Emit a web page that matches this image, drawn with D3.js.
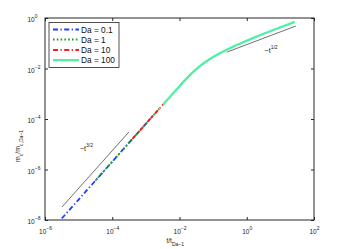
<!DOCTYPE html>
<html><head><meta charset="utf-8">
<script src="https://cdn.jsdelivr.net/npm/d3@7"></script>
<style>
html,body{margin:0;padding:0;background:#fff;}
svg{display:block;font-family:"Liberation Sans",Arial,sans-serif;}
</style></head>
<body><div id="chart"></div>
<script>
// ---- data ----
const seriesNames = ["Da = 0.1", "Da = 1", "Da = 10", "Da = 100"];
// t / t_Da-1  and  m_c / m_c,Da-1
const tDa01 = [3.16e-6, 1e-5, 3.16e-5, 1e-4, 3.16e-4, 1e-3, 1.58e-3];
const mDa01 = [1.15e-8, 6.46e-8, 3.63e-7, 2.04e-6, 1.15e-5, 6.46e-5, 1.29e-4];
const tDa1 = [3.16e-5, 1e-4, 3.16e-4, 1e-3, 2.51e-3];
const mDa1 = [3.63e-7, 2.04e-6, 1.15e-5, 6.46e-5, 2.57e-4];
const tDa10 = [3.98e-4, 1e-3, 3.27e-3];
const mDa10 = [1.62e-5, 6.46e-5, 3.78e-4];
const tDa100 = [3.27e-3, 5.17e-3, 1.03e-2, 2.03e-2, 4.03e-2, 7.98e-2, 0.158, 0.313, 0.621, 1.73, 6.81, 26.7];
const mDa100 = [3.78e-4, 7.50e-4, 2.08e-3, 5.43e-3, 1.23e-2, 2.38e-2, 4.04e-2, 6.37e-2, 9.59e-2, 0.171, 0.351, 0.701];
// reference slope lines
const slope32T = [3.2e-6, 3.13e-4];
const slope32M = [3.27e-8, 3.06e-5];
const slope12T = [0.257, 28.6];
const slope12M = [0.0447, 0.479];
const xTicks = [-6, -4, -2, 0, 2];
const yTicks = [-8, -6, -4, -2, 0];

const W = 347, H = 249;
const svg = d3.select("#chart").append("svg").attr("width", W).attr("height", H);
const L = 45, R = 314, T = 18, B = 220;
const x = d3.scaleLog().domain([1e-6, 1e2]).range([L, R]);
const y = d3.scaleLog().domain([1e-8, 1]).range([B, T]);
const axisColor = "#262626";

// frame
svg.append("rect").attr("x", L).attr("y", T).attr("width", R - L).attr("height", B - T)
  .attr("fill", "none").attr("stroke", axisColor).attr("stroke-width", 1);

function expText(e) { return e < 0 ? "\u2212" + Math.abs(e) : String(e); }
function supLabel(sel, exp) {
  sel.text(null);
  sel.append("tspan").text("10");
  sel.append("tspan").attr("font-size", 5).attr("dy", -4).text(exp);
}

// x axis bottom
const gx = svg.append("g").attr("transform", `translate(0,${B})`)
  .call(d3.axisBottom(x).tickValues(xTicks.map(e => Math.pow(10, e))).tickSizeInner(-3).tickSizeOuter(0).tickFormat(() => ""));
gx.select(".domain").remove();
gx.selectAll(".tick line").attr("stroke", axisColor);
gx.selectAll(".tick text").each(function(d) {
  const e = Math.round(Math.log10(d));
  const t = d3.select(this).attr("y", 14).attr("dy", null).attr("font-size", 6.5).attr("fill", "#222")
    .attr("text-anchor", "middle").attr("font-family", "Liberation Sans, Arial, sans-serif");
  supLabel(t, expText(e));
});
// top ticks
svg.append("g").attr("transform", `translate(0,${T})`)
  .call(d3.axisTop(x).tickValues(xTicks.map(e => Math.pow(10, e))).tickSizeInner(-3).tickSizeOuter(0).tickFormat(() => ""))
  .call(g => { g.select(".domain").remove(); g.selectAll(".tick line").attr("stroke", axisColor); });

// y axis left
const gy = svg.append("g").attr("transform", `translate(${L},0)`)
  .call(d3.axisLeft(y).tickValues(yTicks.map(e => Math.pow(10, e))).tickSizeInner(-3).tickSizeOuter(0).tickFormat(() => ""));
gy.select(".domain").remove();
gy.selectAll(".tick line").attr("stroke", axisColor);
gy.selectAll(".tick text").each(function(d) {
  const e = Math.round(Math.log10(d));
  const t = d3.select(this).attr("x", -17.5).attr("dy", null).attr("y", 3.5).attr("font-size", 6.5).attr("fill", "#222")
    .attr("text-anchor", "start").attr("font-family", "Liberation Sans, Arial, sans-serif");
  supLabel(t, expText(e));
});
// right ticks
svg.append("g").attr("transform", `translate(${R},0)`)
  .call(d3.axisRight(y).tickValues(yTicks.map(e => Math.pow(10, e))).tickSizeInner(-3).tickSizeOuter(0).tickFormat(() => ""))
  .call(g => { g.select(".domain").remove(); g.selectAll(".tick line").attr("stroke", axisColor); });

// clip
svg.append("clipPath").attr("id", "clip").append("rect").attr("x", L).attr("y", T - 2).attr("width", R - L).attr("height", B - T + 2);

const line = d3.line().x(d => x(d[0])).y(d => y(d[1])).curve(d3.curveMonotoneX);
const straight = d3.line().x(d => x(d[0])).y(d => y(d[1]));
const zip = (a, b) => a.map((v, i) => [v, b[i]]);

const styles = [
  { color: "#1f3dff", width: 1.8, dash: "5,2.5,1.2,2.5" },
  { color: "#1ea01e", width: 1.8, dash: "1.6,2.2" },
  { color: "#ff1a1a", width: 1.8, dash: "5,2.5,1.2,2.5" },
  { color: "#4ef0a6", width: 2.3, dash: null }
];
const data = [zip(tDa01, mDa01), zip(tDa1, mDa1), zip(tDa10, mDa10), zip(tDa100, mDa100)];

const plot = svg.append("g").attr("clip-path", "url(#clip)");
data.forEach((d, i) => {
  plot.append("path").datum(d).attr("d", line).attr("fill", "none")
    .attr("stroke", styles[i].color).attr("stroke-width", styles[i].width)
    .attr("stroke-dasharray", styles[i].dash);
});
// slope lines
plot.append("path").datum(zip(slope32T, slope32M)).attr("d", straight).attr("fill", "none").attr("stroke", "#333").attr("stroke-width", 0.7);
plot.append("path").datum(zip(slope12T, slope12M)).attr("d", straight).attr("fill", "none").attr("stroke", "#333").attr("stroke-width", 0.7);

// slope annotations
function slopeText(px, py, exp) {
  const t = svg.append("text").attr("x", px).attr("y", py).attr("font-size", 7).attr("fill", "#222");
  t.append("tspan").text("~t");
  t.append("tspan").attr("font-size", 5).attr("dy", -4.5).text(exp);
}
slopeText(x(1.1e-5), y(5.4e-6), "3/2");
slopeText(x(3.4), y(0.041), "1/2");

// legend
const lg = svg.append("g");
lg.append("rect").attr("x", 49).attr("y", 22.5).attr("width", 70).attr("height", 45)
  .attr("fill", "#fff").attr("stroke", axisColor).attr("stroke-width", 0.8);
const rowsY = [29.5, 39.5, 50, 60.2];
seriesNames.forEach((n, i) => {
  lg.append("line").attr("x1", 53).attr("x2", 79).attr("y1", rowsY[i]).attr("y2", rowsY[i])
    .attr("stroke", styles[i].color).attr("stroke-width", styles[i].width)
    .attr("stroke-dasharray", styles[i].dash);
  lg.append("text").attr("x", 81).attr("y", rowsY[i] + 3).attr("font-size", 8.3).attr("fill", "#111").text(n);
});

// axis labels
const xl = svg.append("text").attr("x", 166.5).attr("y", 242.5).attr("font-size", 6.5).attr("fill", "#222");
xl.append("tspan").text("t/t");
xl.append("tspan").attr("font-size", 5).attr("dy", 3).text("Da\u22121");

const yl = svg.append("text").attr("transform", "translate(19.5,162) rotate(-90)").attr("font-size", 7).attr("fill", "#222");
yl.append("tspan").text("m");
yl.append("tspan").attr("font-size", 5).attr("dy", 3).text("c");
yl.append("tspan").attr("dy", -3).text("/m");
yl.append("tspan").attr("font-size", 5).attr("dy", 3).text("c,Da\u22121");
</script></body></html>
